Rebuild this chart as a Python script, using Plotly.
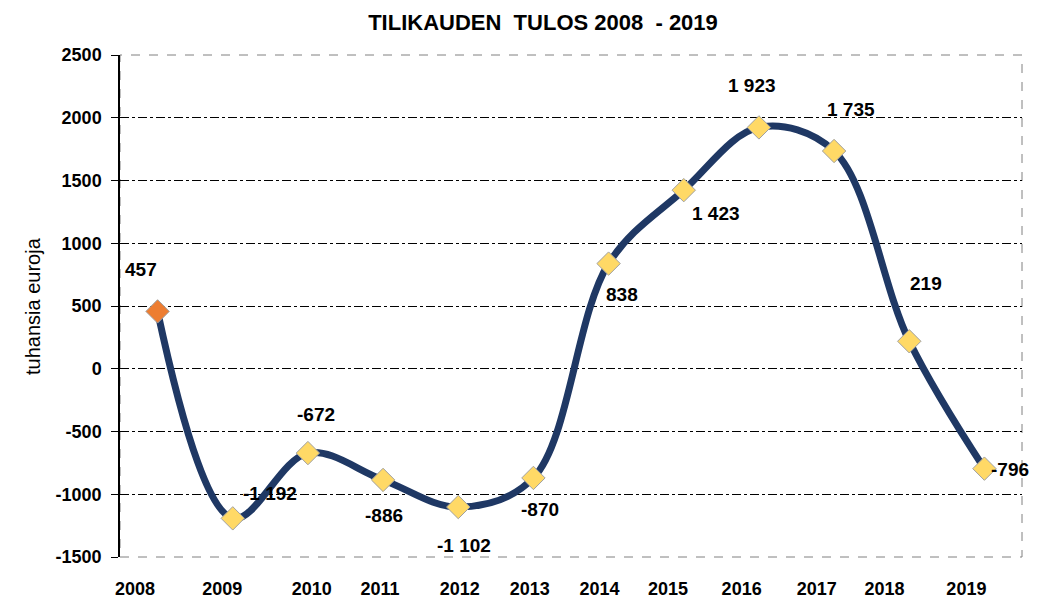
import plotly.graph_objects as go

years = ["2008", "2009", "2010", "2011", "2012", "2013", "2014", "2015", "2016", "2017", "2018", "2019"]
values = [457, -1192, -672, -886, -1102, -870, 838, 1423, 1923, 1735, 219, -796]
label_texts = ["457", "-1 192", "-672", "-886", "-1 102", "-870", "838", "1 423", "1 923", "1 735", "219", "-796"]
y_ticks = [-1500, -1000, -500, 0, 500, 1000, 1500, 2000, 2500]
y_tick_text = ["-1500", "-1000", "-500", "0", "500", "1000", "1500", "2000", "2500"]
# tick label positions (category units) as drawn in the reference
tick_positions = [-0.30, 0.86, 2.05, 2.96, 4.02, 4.95, 5.88, 6.79, 7.77, 8.77, 9.67, 10.76]
# label pixel offsets relative to each point
label_dx = [-17, 37, 8, 1, 6, 7, 13, 32, -7, 17, 17, 26]
label_dy = [-42, -25, -39, 36, 38, 32, 31, 23, -42, -42, -58, 1]

xs = list(range(len(years)))
marker_colors = ["#ED7D31"] + ["#FFD966"] * (len(years) - 1)
FONT = "Arial, Liberation Sans"

# the page adds an 8px body margin, so the figure is sized/offset to compensate
W, H = 1030, 591

fig = go.Figure()
fig.add_trace(go.Scatter(
    x=xs, y=values, mode="lines+markers",
    line=dict(color="#1F3864", width=7, shape="spline", smoothing=1.0),
    marker=dict(symbol="diamond", size=18, color=marker_colors,
                line=dict(color="#A0A0A0", width=1)),
    hoverinfo="skip", showlegend=False,
))

for x, y, t, dx, dy in zip(xs, values, label_texts, label_dx, label_dy):
    fig.add_annotation(x=x, y=y, text=t, showarrow=False, xshift=dx, yshift=-dy,
                       font=dict(family=FONT, size=19, color="#000000", weight="bold"))

fig.add_annotation(xref="paper", yref="paper", x=0, y=0.5, xshift=-100, textangle=-90,
                   text="tuhansia euroja", showarrow=False,
                   font=dict(family=FONT, size=20, color="#000000"))

fig.update_layout(
    width=W, height=H,
    margin=dict(l=112, r=16, t=47, b=42, autoexpand=False),
    paper_bgcolor="white", plot_bgcolor="white",
    title=dict(text="TILIKAUDEN\u00a0\u00a0TULOS 2008\u00a0\u00a0- 2019", x=535 / W, xanchor="center",
               y=1 - 14 / H, yref="container", yanchor="middle",
               font=dict(family=FONT, size=22, color="#000000", weight="bold")),
    font=dict(family=FONT, color="#000000"),
    shapes=[dict(type="rect", xref="paper", yref="paper", x0=0, x1=1, y0=0, y1=1,
                 line=dict(color="#808080", width=1, dash="dash"), layer="below")],
)

fig.update_xaxes(
    range=[-0.5, len(years) - 0.5], tickmode="array", tickvals=tick_positions, ticktext=years,
    showgrid=False, zeroline=False, showline=False, ticks="", automargin=False,
    tickfont=dict(family=FONT, size=18, weight="bold", color="#000000"), ticklabelstandoff=19,
)
fig.update_yaxes(
    range=[-1500, 2500], tickmode="array", tickvals=y_ticks, ticktext=y_tick_text,
    showgrid=True, gridcolor="#000000", griddash="dashdot", gridwidth=1,
    zeroline=False, showline=True, linecolor="#000000", linewidth=1.5, automargin=False,
    ticks="outside", ticklen=7, tickcolor="#000000", ticklabelstandoff=6,
    tickfont=dict(family=FONT, size=18, weight="bold", color="#000000"),
)

fig.write_html("out.html")
